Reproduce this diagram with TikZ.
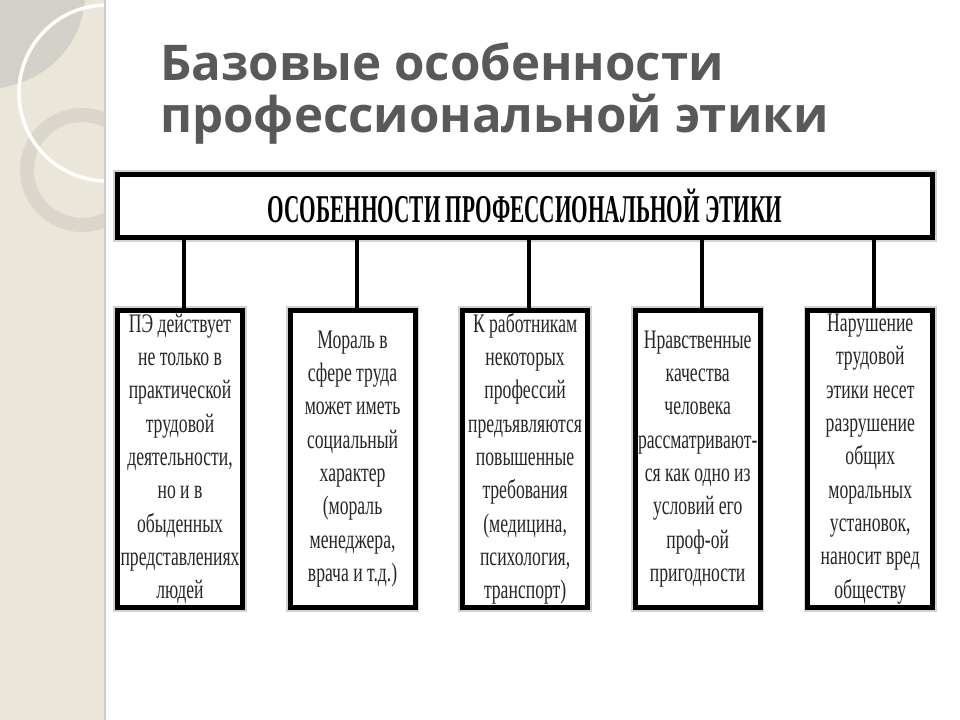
\documentclass[tikz,border=0pt]{standalone}
\usepackage{fontspec}
\setmainfont{Liberation Serif}
\newfontfamily\titlefont{Open Sans}
\newfontfamily\narrowfont[FakeStretch=0.66]{Liberation Serif}
\newfontfamily\capsfont[FakeStretch=0.54]{Liberation Serif}
\usetikzlibrary{positioning}
\definecolor{panelbeige}{RGB}{234,230,218}
\definecolor{leafgray}{RGB}{210,208,200}
\definecolor{ringgray}{RGB}{218,214,203}
\definecolor{titlegray}{RGB}{89,89,89}

\begin{document}
\begin{tikzpicture}[
    x=0.025cm, y=-0.025cm,
    node distance=1.065cm,
    head/.style={draw, line width=3.5pt, fill=white, minimum width=20.375cm, minimum height=1.575cm,
                 font=\capsfont\bfseries\fontsize{28}{30}\selectfont,
                 preaction={draw=gray!35, line width=6pt}},
    item/.style={draw, line width=3.5pt, fill=white, minimum width=3.125cm, minimum height=7.42cm,
                 text width=3.1cm, inner sep=0pt, align=flush center, text=black!85,
                 font=\narrowfont\fontsize{19}{23.7}\selectfont,
                 preaction={draw=gray!35, line width=6pt}},
    link/.style={line width=2.8pt}
]
\useasboundingbox (0,0) rectangle (960,720);
% left panel
\fill[panelbeige] (0,0) rectangle (105,720);
\begin{scope}
  \clip (0,0) rectangle (105,720);
  \fill[leafgray] (0,0) -- (85,0) .. controls (80,50) and (45,80) .. (0,88) -- cycle;
  \fill[ringgray, even odd rule] (82,170) circle (1.55cm) (82,170) circle (1.2cm);
  \draw[white, line width=2.5pt] (107,93) circle (2.2cm);
\end{scope}
\draw[gray!40, line width=1pt] (105,0) -- (105,720);

% title
\node[anchor=base west, inner sep=0pt, align=left, text=titlegray,
      font=\titlefont\bfseries\fontsize{35}{37}\selectfont] (title) at (160,133)
  {Базовые особенности\\профессиональной этики};

% scheme
\node[head] (head) at (525,206) {ОСОБЕННОСТИ ПРОФЕССИОНАЛЬНОЙ ЭТИКИ};

\node[item, anchor=north] (pe) at (180,308)
  {ПЭ действует\\не только в\\практической\\трудовой\\деятельности,\\но и в\\обыденных\\представлениях\\людей};
\node[item, right=of pe] (moral)
  {Мораль в\\сфере труда\\может иметь\\социальный\\характер\\(мораль\\менеджера,\\врача и т.д.)};
\node[item, right=of moral] (prof)
  {К работникам\\некоторых\\профессий\\предъявляются\\повышенные\\требования\\(медицина,\\психология,\\транспорт)};
\node[item, right=of prof] (qual)
  {Нравственные\\качества\\человека\\рассматривают\mbox{-}\\ся как одно из\\условий его\\проф-ой\\пригодности};
\node[item, right=of qual] (viol)
  {Нарушение\\трудовой\\этики несет\\разрушение\\общих\\моральных\\установок,\\наносит вред\\обществу};

\foreach \b in {pe,moral,prof,qual,viol}
  \draw[link] ([xshift=0.1cm]\b.north |- head.south) -- ([xshift=0.1cm]\b.north);
\end{tikzpicture}
\end{document}
